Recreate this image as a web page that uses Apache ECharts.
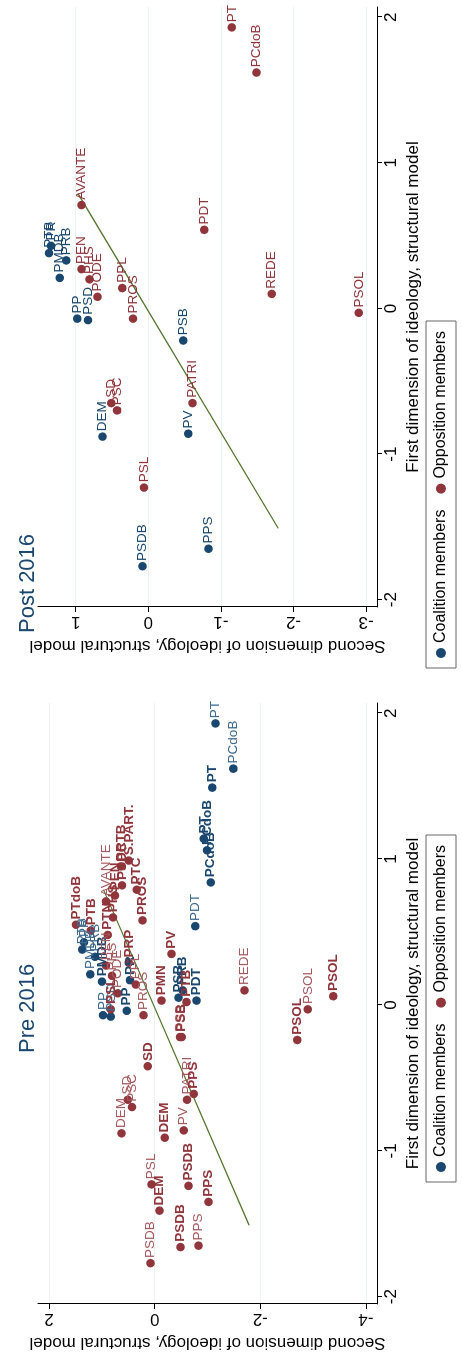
<!DOCTYPE html>
<html>
<head>
<meta charset="utf-8">
<script src="https://cdn.jsdelivr.net/npm/echarts@6/dist/echarts.min.js"></script>
<style>
html,body{margin:0;padding:0;background:#fff;overflow:hidden;}
#wrap{position:absolute;left:0;top:0;width:462px;height:1360px;overflow:hidden;}
#chart{position:absolute;left:0;top:0;width:1360px;height:462px;transform-origin:0 0;transform:translate(0,1360px) rotate(-90deg);}
</style>
</head>
<body>
<div id="wrap"><div id="chart"></div></div>
<script>
// Post 2016 estimates (also drawn in the Pre panel in normal weight)
var postNames = ['PT','PCdoB','AVANTE','PDT','REDE','PEN','PHS','PODE','PPL','PROS','SD','PSC','PATRI','PSL','PSOL',
                 'PR','PTB','PMDB','PRB','PP','PSD','DEM','PSB','PV','PSDB','PPS'];
var postDim1 = [1.93,1.62,0.71,0.54,0.10,0.27,0.20,0.08,0.14,-0.07,-0.65,-0.70,-0.65,-1.23,-0.03,
                0.43,0.38,0.21,0.33,-0.07,-0.08,-0.88,-0.22,-0.86,-1.77,-1.65];
var postDim2 = [-1.15,-1.49,0.92,-0.77,-1.70,0.92,0.81,0.70,0.36,0.21,0.51,0.43,-0.61,0.06,-2.90,
                1.34,1.37,1.22,1.13,0.98,0.83,0.63,-0.48,-0.55,0.08,-0.83];
// C = coalition, O = opposition
var postGroup = ['O','O','O','O','O','O','O','O','O','O','O','O','O','O','O',
                 'C','C','C','C','C','C','C','C','C','C','C'];
var preGroupOfPost = ['C','C','O','C','O','O','O','O','O','O','O','O','O','O','O',
                      'C','C','C','C','C','C','O','O','O','O','O'];

// Pre 2016 estimates (bold labels)
var preNames = ['PT','PT','PCdoB','PCdoB','PDT','PSB','PRB','PMDB','PP','PR',
                'PTB','PTdoB','PTB','S.PART.','PRTB','PTC','PROS','PRP','PEN','PSDC','PHS','PTN','PSL',
                'PMN','PV','SD','PPS','DEM','DEM','PSDB','PPS','PSDB','PSOL','PSOL','PSB'];
var preDim1 = [1.49,1.14,1.06,0.84,0.03,0.05,0.10,0.16,-0.04,0.17,
               0.02,0.55,0.51,0.99,0.95,0.79,0.58,0.29,0.75,0.82,0.60,0.48,-0.03,
               0.03,0.35,-0.42,-0.61,-0.91,-1.41,-1.24,-1.35,-1.66,-0.24,0.06,-0.22];
var preDim2 = [-1.09,-0.93,-0.99,-1.06,-0.79,-0.45,-0.53,1.00,0.53,0.47,
               -0.60,1.49,1.21,0.49,0.64,0.34,0.23,0.49,0.75,0.62,0.79,0.89,0.83,
               -0.13,-0.32,0.13,-0.74,-0.19,-0.09,-0.64,-1.02,-0.49,-2.70,-3.38,-0.51];
var preGroup = ['C','C','C','C','C','C','C','C','C','C',
                'O','O','O','O','O','O','O','O','O','O','O','O','O',
                'O','O','O','O','O','O','O','O','O','O','O','O'];

// fitted line end points (first dim, second dim)
var fitDim1 = [-1.51, 0.79];
var fitDim2 = [-1.79, 0.97];

var navy = '#1a476f', maroon = '#90353b', green = '#55752f';
var font = 'Liberation Sans';

function pts(names, d1, d2, grp, want, style) {
    var out = [];
    for (var i = 0; i < names.length; i++) {
        if (grp[i] !== want) continue;
        var lab = {};
        if (style === 'bold') lab = {fontWeight: 'bold'};
        if (style === 'light') lab = {color: want === 'C' ? '#3f6a90' : '#a65a5f'};
        out.push({value: [d1[i], d2[i]], name: names[i], label: lab});
    }
    return out;
}

function scatter(name, color, gi, data) {
    return {
        name: name, type: 'scatter', xAxisIndex: gi, yAxisIndex: gi,
        symbolSize: 8.5, itemStyle: {color: color, opacity: 1},
        label: {show: true, position: 'right', distance: 1, formatter: '{b}',
                color: color, fontSize: 13.5, fontFamily: font},
        data: data, silent: true, z: 3
    };
}

function fit(gi) {
    return {
        type: 'line', xAxisIndex: gi, yAxisIndex: gi, symbol: 'none', silent: true,
        lineStyle: {color: green, width: 1.3}, z: 2,
        data: fitDim1.map(function (v, i) { return [v, fitDim2[i]]; })
    };
}

function xAx(gi) {
    return {
        gridIndex: gi, type: 'value', min: -2.05, max: 2.07,
        name: 'First dimension of ideology, structural model', nameLocation: 'middle', nameGap: 27,
        nameTextStyle: {fontSize: 17, color: '#000', fontFamily: font},
        axisLine: {onZero: false, lineStyle: {color: '#000', width: 1}},
        axisTick: {show: true, length: 5, lineStyle: {color: '#000'}, customValues: [-2,-1,0,1,2]},
        axisLabel: {fontSize: 17, color: '#000', fontFamily: font, margin: 6, customValues: [-2,-1,0,1,2]},
        splitLine: {show: false}
    };
}
function yAx(gi, mn, mx, ticks) {
    return {
        gridIndex: gi, type: 'value', min: mn, max: mx,
        name: 'Second dimension of ideology, structural model', nameLocation: 'middle', nameGap: 30, nameRotate: 90,
        nameTextStyle: {fontSize: 17, color: '#000', fontFamily: font},
        axisLine: {show: true, onZero: false, lineStyle: {color: '#000', width: 1}},
        axisTick: {show: true, length: 5, lineStyle: {color: '#000'}, customValues: ticks},
        axisLabel: {fontSize: 17, color: '#000', fontFamily: font, margin: 6, rotate: 90, customValues: ticks},
        splitLine: {show: true, lineStyle: {color: '#eaf2f3', width: 1}}
    };
}
function legend(left) {
    return {
        left: left, top: 426, orient: 'horizontal', borderColor: '#666', borderWidth: 1, padding: [7, 10],
        itemWidth: 10, itemHeight: 10, itemGap: 16, icon: 'circle',
        textStyle: {fontSize: 16, color: '#000', fontFamily: font},
        data: ['Coalition members', 'Opposition members']
    };
}

var chart = echarts.init(document.getElementById('chart'));
chart.setOption({
    backgroundColor: '#fff',
    animation: false,
    title: [
        {text: 'Pre 2016', left: 302, top: 12, textStyle: {fontSize: 22, fontWeight: 'normal', color: navy, fontFamily: font}},
        {text: 'Post 2016', left: 722, top: 12, textStyle: {fontSize: 22, fontWeight: 'normal', color: navy, fontFamily: font}}
    ],
    legend: [legend(178), legend(692)],
    grid: [
        {left: 56, top: 38, width: 601, height: 339},
        {left: 753, top: 38, width: 600, height: 339}
    ],
    xAxis: [xAx(0), xAx(1)],
    yAxis: [yAx(0, -4.21, 2.21, [-4,-2,0,2]), yAx(1, -3.15, 1.52, [-3,-2,-1,0,1])],
    series: [
        fit(0), fit(1),
        scatter('Coalition members', navy, 0,
            pts(postNames, postDim1, postDim2, preGroupOfPost, 'C', 'light')
              .concat(pts(preNames, preDim1, preDim2, preGroup, 'C', 'bold'))),
        scatter('Opposition members', maroon, 0,
            pts(postNames, postDim1, postDim2, preGroupOfPost, 'O', 'light')
              .concat(pts(preNames, preDim1, preDim2, preGroup, 'O', 'bold'))),
        scatter('Coalition members', navy, 1, pts(postNames, postDim1, postDim2, postGroup, 'C', 'plain')),
        scatter('Opposition members', maroon, 1, pts(postNames, postDim1, postDim2, postGroup, 'O', 'plain'))
    ]
});
</script>
</body>
</html>
